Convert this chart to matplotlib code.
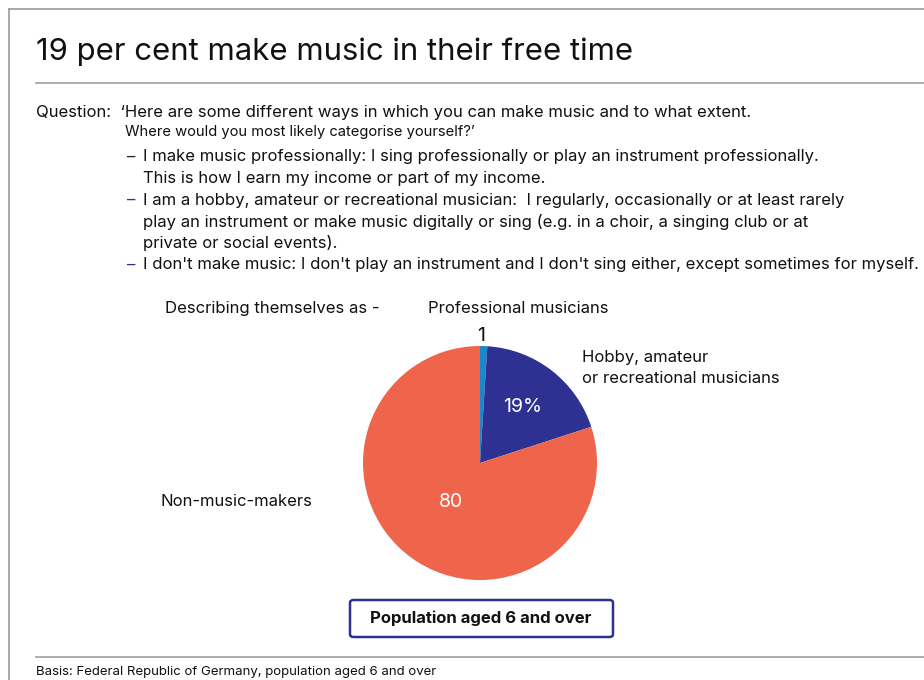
import matplotlib.pyplot as plt
from matplotlib.patches import FancyBboxPatch
from matplotlib.lines import Line2D

plt.rcParams['font.family'] = ['Inter', 'DejaVu Sans']

# datos
categorias = ["Professional musicians", "Hobby, amateur\nor recreational musicians", "Non-music-makers"]
valores = [1, 19, 80]
etiquetas_valor = ["", "19%", "80"]
colores = ["#1b87cc", "#2e3192", "#ef654b"]

titulo = "19 per cent make music in their free time"
pregunta = ["Question:  \u2018Here are some different ways in which you can make music and to what extent.",
            "Where would you most likely categorise yourself?\u2019"]
respuestas = ["I make music professionally: I sing professionally or play an instrument professionally.\nThis is how I earn my income or part of my income.",
              "I am a hobby, amateur or recreational musician:  I regularly, occasionally or at least rarely\nplay an instrument or make music digitally or sing (e.g. in a choir, a singing club or at\nprivate or social events).",
              "I don't make music: I don't play an instrument and I don't sing either, except sometimes for myself."]
color_guion = ["#222222", "#2e3192", "#2e3192"]

W, H = 924, 680
fig = plt.figure(figsize=(W/100, H/100), dpi=100)
FS = 12

# coordenadas en pixeles (origen arriba a la izquierda)
def px(x, y):
    return x / W, 1 - y / H

def texto(x, y, s, **kw):
    fx, fy = px(x, y)
    fig.text(fx, fy, s, **kw)

def linea(x0, y0, x1, y1, **kw):
    a, b = px(x0, y0)
    c, d = px(x1, y1)
    fig.add_artist(Line2D([a, c], [b, d], transform=fig.transFigure, **kw))

# marco
linea(9, 9, W, 9, color="#9a9a9a", lw=1.2)
linea(9, 9, 9, H, color="#9a9a9a", lw=1.2)

texto(36, 52, titulo, fontsize=22.4, va="center", color="#111111")
linea(36, 83, W, 83, color="#a0a0a0", lw=1.2)

texto(36, 112, pregunta[0], fontsize=FS, va="center", color="#111111")
texto(125, 132, pregunta[1], fontsize=10.6, va="center", color="#111111")

y = 157
for resp, col in zip(respuestas, color_guion):
    texto(127, y, "\u2013", fontsize=FS, va="center", color=col)
    for renglon in resp.split("\n"):
        texto(143, y, renglon, fontsize=FS, va="center", color="#111111")
        y += 21.6

# torta
cx, cy, r = 480, 463, 117
ax = fig.add_axes([(cx - r) / W, (H - cy - r) / H, 2 * r / W, 2 * r / H])
cunas, _ = ax.pie(valores, colors=colores, startangle=90, counterclock=False,
                  radius=1, wedgeprops=dict(linewidth=0))
ax.set_xlim(-1, 1)
ax.set_ylim(-1, 1)
ax.set_aspect("equal")
ax.axis("off")

ax.text(0.36, 0.48, etiquetas_valor[1], color="white", fontsize=14, ha="center", va="center")
ax.text(-0.25, -0.33, etiquetas_valor[2], color="white", fontsize=14, ha="center", va="center")

texto(165, 309, "Describing themselves as -", fontsize=FS, va="center", color="#111111")
texto(428, 309, categorias[0], fontsize=FS, va="center", color="#111111")
texto(481, 336, str(valores[0]), fontsize=14, va="center", ha="center", color="#111111")
texto(582, 368, categorias[1], fontsize=FS, va="center", color="#111111", linespacing=1.55)
texto(161, 501, categorias[2], fontsize=FS, va="center", color="#111111")

# recuadro de la base
x0, y0 = px(350, 637)
caja = FancyBboxPatch((x0, y0), 263 / W, 37 / H, boxstyle="round,pad=0,rounding_size=0.004",
                      transform=fig.transFigure, facecolor="white", edgecolor="#2e3192", lw=1.8)
fig.add_artist(caja)
texto(481, 618, "Population aged 6 and over", fontsize=FS, weight="bold",
      ha="center", va="center", color="#111111")

linea(36, 657, W, 657, color="#a0a0a0", lw=1.2)
texto(36, 672, "Basis: Federal Republic of Germany, population aged 6 and over",
      fontsize=9.5, va="center", color="#111111")

fig.savefig("out.png", dpi=100)
